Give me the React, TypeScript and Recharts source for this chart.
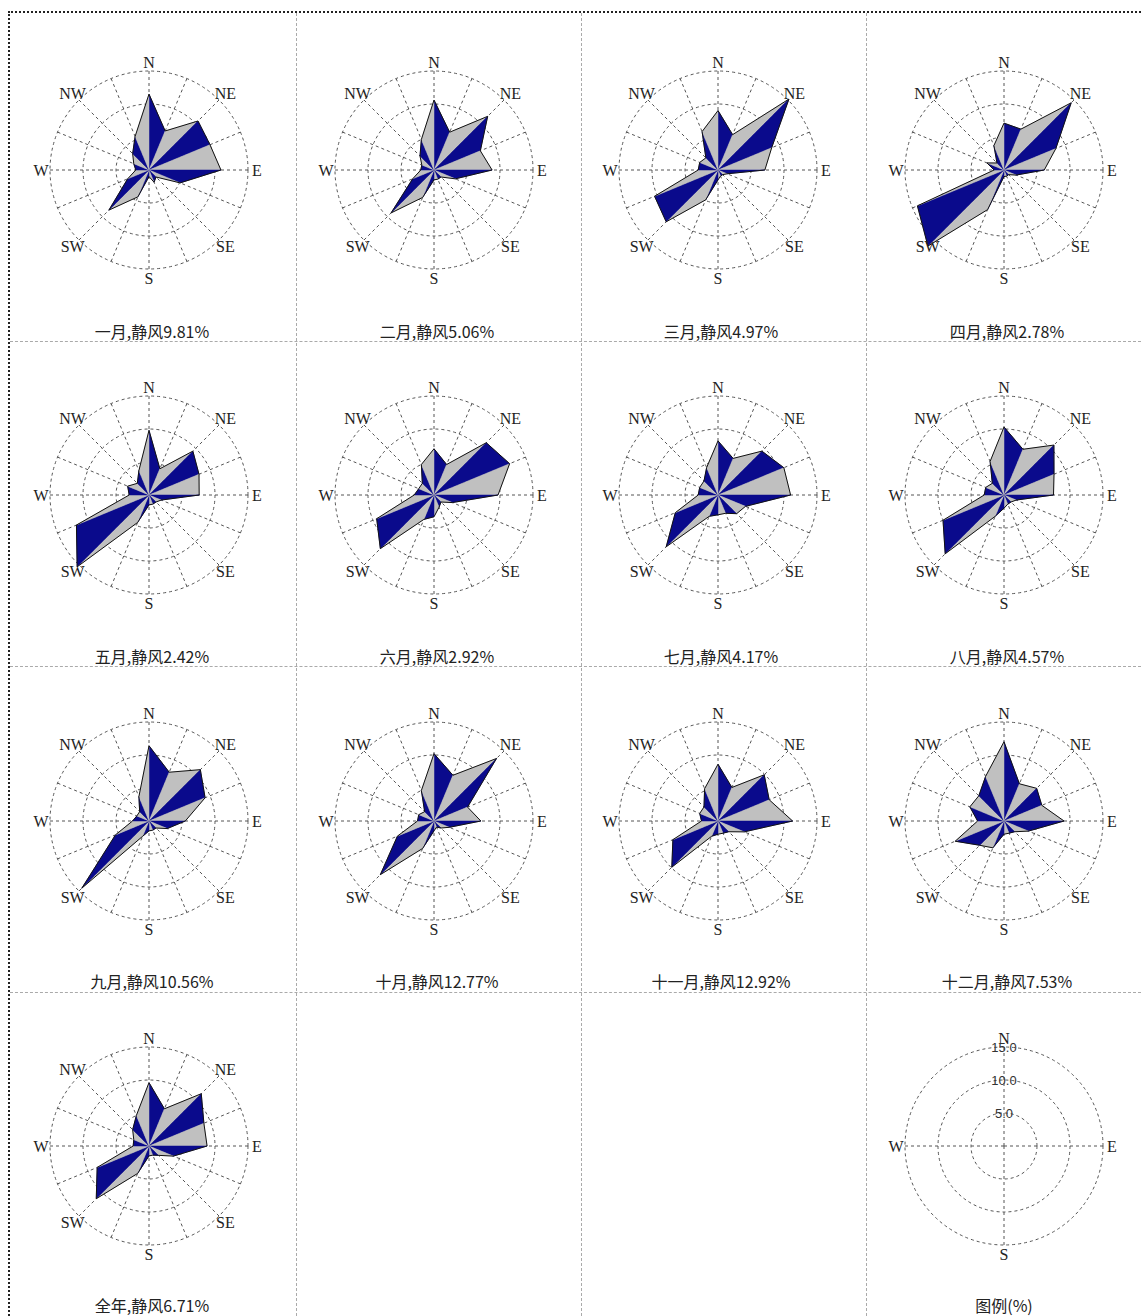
import React from 'react';
import { RadarChart, Radar, PolarGrid, PolarAngleAxis, PolarRadiusAxis } from 'recharts';

// 16 compass sectors, clockwise from north
const DIRS = ['N', 'NNE', 'NE', 'ENE', 'E', 'ESE', 'SE', 'SSE', 'S', 'SSW', 'SW', 'WSW', 'W', 'WNW', 'NW', 'NNW'];
const LABELED = ['N', 'NE', 'E', 'SE', 'S', 'SW', 'W', 'NW'];
const LEGEND_DIRS = ['N', 'E', 'S', 'W'];
const RING_TICKS = [0, 5, 10, 15];

// wind direction frequency (%) per sector
const jan = [11.5, 6.4, 10.5, 10.0, 10.9, 5.1, 1.5, 2.0, 1.0, 4.4, 8.6, 3.5, 2.0, 2.5, 3.5, 5.5];
const feb = [10.6, 6.2, 11.5, 7.6, 8.8, 3.5, 1.5, 1.5, 1.5, 4.5, 9.2, 3.5, 2.0, 2.0, 3.0, 5.0];
const mar = [9.0, 5.8, 15.2, 8.8, 7.1, 1.5, 1.0, 1.0, 1.5, 4.9, 11.1, 10.4, 3.0, 3.0, 2.6, 6.3];
const apr = [7.1, 6.7, 14.4, 8.5, 6.1, 2.0, 1.0, 1.0, 1.0, 6.5, 16.3, 14.2, 1.5, 2.8, 1.5, 4.0];
const may = [9.8, 4.3, 9.4, 8.2, 7.6, 2.0, 1.5, 1.5, 1.5, 4.5, 15.4, 11.9, 3.0, 3.5, 2.5, 4.0];
const jun = [7.0, 5.0, 11.2, 12.4, 9.7, 3.0, 1.5, 2.0, 3.3, 4.0, 11.5, 9.4, 3.0, 2.5, 2.5, 5.0];
const jul = [8.2, 6.0, 9.4, 10.8, 11.0, 4.5, 4.0, 3.0, 3.0, 3.5, 11.1, 7.0, 3.0, 3.0, 3.0, 4.5];
const aug = [10.3, 7.5, 10.7, 8.2, 7.5, 2.0, 1.5, 1.5, 2.0, 3.5, 12.6, 10.0, 3.0, 3.0, 2.5, 5.5];
const sep = [11.4, 8.0, 11.0, 9.2, 5.5, 3.0, 1.5, 1.5, 1.5, 2.5, 14.4, 5.5, 2.5, 2.0, 2.0, 4.0];
const oct = [10.2, 7.5, 13.4, 5.5, 7.1, 2.5, 1.5, 1.0, 1.5, 4.5, 11.5, 6.0, 2.5, 2.5, 2.0, 5.0];
const nov = [8.6, 5.5, 9.9, 8.4, 11.3, 4.3, 2.3, 2.0, 2.0, 2.5, 9.9, 7.4, 2.5, 3.0, 3.0, 5.3];
const dec = [12.0, 6.1, 7.0, 6.2, 9.1, 4.0, 2.3, 2.0, 2.0, 4.4, 5.2, 8.0, 4.0, 5.6, 5.4, 7.3];
const year = [9.6, 6.1, 11.2, 9.0, 8.8, 4.0, 2.0, 1.5, 1.5, 4.5, 11.3, 8.5, 2.4, 2.5, 3.5, 5.0];

const series = [jan, feb, mar, apr, may, jun, jul, aug, sep, oct, nov, dec, year];
const periods = ['一月', '二月', '三月', '四月', '五月', '六月', '七月', '八月', '九月', '十月', '十一月', '十二月', '全年'];
const calmPct = [9.81, 5.06, 4.97, 2.78, 2.42, 2.92, 4.17, 4.57, 10.56, 12.77, 12.92, 7.53, 6.71];

const BLUE = '#0a0a8c';
const GRAY = '#c0c0c0';
const GRID = '#555';

const COL_X = [149, 434, 718, 1004];
const ROW_Y = [170, 495, 821, 1146];
const CAPTION_Y = [331, 656, 981, 1305];
const W = 280;
const H = 300;
const R = 99;

// alternating blue/grey triangles between neighbouring sectors, black outline on top
const RoseShape = (props: any) => {
  const pts = props.points || [];
  if (!pts.length) return <g />;
  const cx = pts[0].cx;
  const cy = pts[0].cy;
  return (
    <g>
      {pts.map((p: any, i: number) => {
        const q = pts[(i + 1) % pts.length];
        return (
          <polygon
            key={i}
            points={`${cx},${cy} ${p.x},${p.y} ${q.x},${q.y}`}
            fill={i % 2 === 0 ? BLUE : GRAY}
            stroke={i % 2 === 0 ? BLUE : GRAY}
            strokeWidth={0.5}
          />
        );
      })}
      <polygon
        points={pts.map((p: any) => `${p.x},${p.y}`).join(' ')}
        fill="none"
        stroke="#111"
        strokeWidth={1}
      />
    </g>
  );
};

// the legend series carries no petals, only sets up the scales
const EmptyShape = () => <g />;

const DirTick = ({ x, y, payload, shown }: any) => {
  if (!shown.includes(payload.value)) return <g />;
  return (
    <text x={x} y={y} textAnchor="middle" dominantBaseline="central"
      fontFamily="'Liberation Serif', serif" fontSize={16} fill="#222">
      {payload.value}
    </text>
  );
};

const RingTick = ({ x, y, payload }: any) => {
  if (payload.value === 0) return <g />;
  return (
    <text x={x} y={y} textAnchor="middle" dominantBaseline="central"
      fontFamily="'Liberation Sans', Arial, sans-serif" fontSize={13} fill="#333">
      {Number(payload.value).toFixed(1)}
    </text>
  );
};

const Caption = ({ x, y, text }: { x: number; y: number; text: string }) => (
  <div style={{
    position: 'absolute', left: x - 100, top: y - 10, width: 200, height: 20,
    textAlign: 'center', lineHeight: '20px', fontSize: 16, color: '#222',
    fontFamily: "'Noto Sans CJK SC', sans-serif", whiteSpace: 'nowrap',
  }}>
    {text}
  </div>
);

const Rose = ({ values, x, y }: { values: number[]; x: number; y: number }) => {
  const data = DIRS.map((d, i) => ({ dir: d, v: values[i] }));
  return (
    <div style={{ position: 'absolute', left: x - W / 2, top: y - H / 2 }}>
      <RadarChart width={W} height={H} data={data} cx={W / 2} cy={H / 2} outerRadius={R}
        margin={{ top: 0, right: 0, bottom: 0, left: 0 }}>
        <PolarGrid gridType="circle" stroke={GRID} strokeDasharray="3 3" />
        <PolarAngleAxis dataKey="dir" tickLine={false} axisLine={false} tickSize={9}
          tick={(p: any) => <DirTick {...p} shown={LABELED} />} />
        <PolarRadiusAxis domain={[0, 15]} ticks={RING_TICKS} tickCount={4} allowDataOverflow
          tick={false} axisLine={false} />
        <Radar dataKey="v" isAnimationActive={false} shape={<RoseShape />} />
      </RadarChart>
    </div>
  );
};

const LegendRose = ({ x, y }: { x: number; y: number }) => {
  const data = LEGEND_DIRS.map((d) => ({ dir: d, v: 0 }));
  return (
    <div style={{ position: 'absolute', left: x - W / 2, top: y - H / 2 }}>
      <RadarChart width={W} height={H} data={data} cx={W / 2} cy={H / 2} outerRadius={R}
        margin={{ top: 0, right: 0, bottom: 0, left: 0 }}>
        <PolarGrid gridType="circle" stroke={GRID} strokeDasharray="3 3" />
        <PolarAngleAxis dataKey="dir" tickLine={false} axisLine={false} tickSize={9}
          tick={(p: any) => <DirTick {...p} shown={LEGEND_DIRS} />} />
        <PolarRadiusAxis angle={90} domain={[0, 15]} ticks={RING_TICKS} tickCount={4} allowDataOverflow
          axisLine={false} tickLine={false} tick={<RingTick />} />
        <Radar dataKey="v" isAnimationActive={false} shape={<EmptyShape />} />
      </RadarChart>
    </div>
  );
};

const hLine = (y: number) => (
  <div key={'h' + y} style={{ position: 'absolute', left: 10, top: y, width: 1131, height: 0, borderTop: '1px dashed #aaa' }} />
);
const vLine = (x: number) => (
  <div key={'v' + x} style={{ position: 'absolute', left: x, top: 13, width: 0, height: 1303, borderLeft: '1px dashed #aaa' }} />
);

export default function App() {
  return (
    <div style={{ position: 'absolute', left: 0, top: 0, width: 1141, height: 1316, background: '#fff', overflow: 'hidden' }}>
      <div style={{ position: 'absolute', left: 8, top: 11, width: 1133, height: 0, borderTop: '2px dotted #222' }} />
      <div style={{ position: 'absolute', left: 8, top: 11, width: 0, height: 1305, borderLeft: '2px dotted #222' }} />
      {[341, 666, 992].map(hLine)}
      {[296, 581, 866].map(vLine)}
      {series.map((vals, i) => {
        const col = i % 4;
        const row = Math.floor(i / 4);
        return (
          <React.Fragment key={periods[i]}>
            <Rose values={vals} x={COL_X[col]} y={ROW_Y[row]} />
            <Caption x={COL_X[col] + 3} y={CAPTION_Y[row]} text={`${periods[i]},静风${calmPct[i].toFixed(2)}%`} />
          </React.Fragment>
        );
      })}
      <LegendRose x={COL_X[3]} y={ROW_Y[3]} />
      <Caption x={COL_X[3]} y={CAPTION_Y[3]} text="图例(%)" />
    </div>
  );
}
